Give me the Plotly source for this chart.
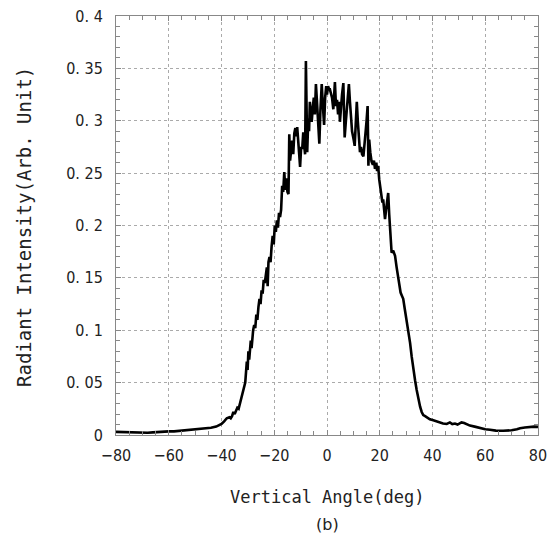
import plotly.graph_objects as go

# Rows are aligned: each angle row pairs with the intensity row of the same length
angle = [
    -80, -78, -76, -74, -72, -70, -68, -66, -64, -62,
    -60, -58, -56, -54, -52, -50, -48, -46, -44, -42,
    -41, -40, -39, -38, -37, -36.5, -36, -35.5, -35, -34.5,
    -34, -33.5, -33, -32.5, -32, -31.5, -31, -30.7, -30.4, -30.1,
    -29.8, -29.5, -29.2, -28.9, -28.6, -28.3, -28, -27.6, -27.2, -26.8,
    -26.4, -26, -25.6, -25.2, -24.8, -24.4, -24, -23.6, -23.2, -22.8,
    -22.5, -22.2, -21.8, -21.4, -21, -20.6, -20.2, -19.8, -19.4, -19,
    -18.6, -18.2, -17.8, -17.4, -17, -16.6, -16.2, -15.8, -15.4, -15,
    -14.6, -14.3, -14, -13.6, -13.2, -12.8, -12.4, -12, -11.7, -11.3,
    -11, -10.6, -10.2, -9.8, -9.4, -9, -8.6, -8.3, -8, -7.8,
    -7.5, -7.1, -6.8, -6.5, -6.1, -5.8, -5.4, -5, -4.6, -4.2,
    -3.8, -3.4, -2.9, -2.5, -2, -1.6, -1.1, -0.7, -0.3, 0,
    0.4, 0.8, 1.1, 1.5, 1.9, 2.4, 2.7, 3, 3.4, 3.8,
    4.2, 4.6, 4.9, 5.3, 5.7, 6.2, 6.5, 6.7, 7.1, 7.7,
    8, 8.3, 8.7, 9.1, 9.5, 10.1, 10.5, 10.8, 11.3, 11.7,
    12.1, 12.5, 12.9, 13.3, 13.8, 14.2, 14.7, 15, 15.4, 15.7,
    16, 16.4, 16.9, 17.4, 17.8, 18.2, 18.7, 19, 19.4, 19.8,
    20.2, 20.7, 21, 21.3, 21.6, 22, 22.4, 22.8, 23.2, 23.6,
    24.1, 24.5, 25.1, 25.8, 26.4, 27, 27.5, 27.9, 28.4, 28.9,
    29.5, 30.2, 30.8, 31.5, 32.1, 32.7, 33.4, 34, 34.6, 35.3,
    35.9, 36.5, 37.2, 37.8, 39, 40.3, 41.5, 42.8, 44, 45.4,
    46.6, 47.5, 48.5, 49.5, 51, 52, 53, 54.2, 56, 58,
    60, 61.8, 64, 66.8, 68, 70, 72, 73.2, 75, 77, 78.5, 80,
]

intensity = [
    0.003, 0.0028, 0.0025, 0.0022, 0.002, 0.002, 0.0022, 0.0025, 0.003, 0.003,
    0.0035, 0.0035, 0.004, 0.004, 0.0045, 0.005, 0.0055, 0.006, 0.007, 0.008,
    0.009, 0.0105, 0.013, 0.016, 0.017, 0.016, 0.018, 0.022, 0.02, 0.024,
    0.026, 0.025, 0.03, 0.036, 0.042, 0.047, 0.05, 0.06, 0.07, 0.062,
    0.08, 0.072, 0.085, 0.09, 0.083, 0.095, 0.1, 0.105, 0.102, 0.115,
    0.11, 0.122, 0.13, 0.125, 0.138, 0.135, 0.148, 0.145, 0.155, 0.16,
    0.142, 0.165, 0.17, 0.165, 0.18, 0.19, 0.182, 0.2, 0.194, 0.205,
    0.198, 0.212, 0.208, 0.215, 0.238, 0.232, 0.251, 0.234, 0.245, 0.232,
    0.23, 0.287, 0.262, 0.273, 0.281, 0.268, 0.288, 0.293, 0.285, 0.294,
    0.279, 0.27, 0.256, 0.275, 0.273, 0.289, 0.275, 0.268, 0.357, 0.3,
    0.27, 0.302, 0.29, 0.318, 0.305, 0.299, 0.312, 0.322, 0.306, 0.335,
    0.318, 0.3, 0.278, 0.31, 0.335, 0.316, 0.296, 0.322, 0.333, 0.325,
    0.333, 0.33, 0.33, 0.326, 0.322, 0.311, 0.325, 0.337, 0.314, 0.32,
    0.306, 0.318, 0.299, 0.318, 0.325, 0.336, 0.3, 0.284, 0.298, 0.314,
    0.322, 0.335, 0.318, 0.303, 0.29, 0.282, 0.276, 0.292, 0.318, 0.299,
    0.28, 0.27, 0.275, 0.268, 0.266, 0.275, 0.291, 0.3, 0.314, 0.257,
    0.282, 0.27, 0.261, 0.258, 0.262, 0.254, 0.26, 0.252, 0.257, 0.244,
    0.236, 0.228, 0.222, 0.225, 0.218, 0.206, 0.215, 0.222, 0.231, 0.21,
    0.187, 0.174, 0.176, 0.171, 0.16, 0.151, 0.145, 0.136, 0.133, 0.13,
    0.12, 0.11, 0.1, 0.088, 0.075, 0.062, 0.052, 0.043, 0.034, 0.027,
    0.022, 0.019, 0.018, 0.017, 0.015, 0.014, 0.013, 0.0115, 0.011, 0.0105,
    0.012, 0.0105, 0.011, 0.01, 0.012, 0.0115, 0.01, 0.009, 0.008, 0.0065,
    0.0055, 0.005, 0.0042, 0.004, 0.004, 0.0045, 0.0055, 0.0065, 0.0072, 0.0078, 0.008, 0.0078,
]

x_ticks = [-80, -60, -40, -20, 0, 20, 40, 60, 80]
x_ticktext = ["\u221280", "\u221260", "\u221240", "\u221220", "0", "20", "40", "60", "80"]
y_ticks = [0, 0.05, 0.1, 0.15, 0.2, 0.25, 0.3, 0.35, 0.4]
y_ticktext = ["0", "0. 05", "0. 1", "0. 15", "0. 2", "0. 25", "0. 3", "0. 35", "0. 4"]

tick_font = dict(family="Liberation Sans Narrow, DejaVu Sans Condensed, sans-serif",
                 size=16, color="#222")

fig = go.Figure()
fig.add_trace(go.Scatter(x=angle, y=intensity, mode="lines",
                         line=dict(color="#000", width=2.6), showlegend=False,
                         hoverinfo="skip"))

axis_common = dict(
    showline=True, linecolor="#888", linewidth=1, mirror="ticks",
    ticks="inside", ticklen=5, tickcolor="#888", tickwidth=1,
    showgrid=True, gridcolor="#aaa", griddash="dot", gridwidth=1,
    zeroline=False, tickfont=tick_font, ticklabeloverflow="allow",
    automargin=False,
)

fig.update_xaxes(range=[-80, 80], tickvals=x_ticks, ticktext=x_ticktext,
                 minor=dict(ticks="inside", dtick=5, ticklen=4, tickcolor="#888", showgrid=False),
                 ticklabelstandoff=6, **axis_common)
fig.update_yaxes(range=[0, 0.4], tickvals=y_ticks, ticktext=y_ticktext,
                 minor=dict(ticks="inside", dtick=0.01, ticklen=4, tickcolor="#888", showgrid=False),
                 ticklabelstandoff=9, **axis_common)

W, H = 554, 545
L, T, R, B = 116, 16, 16, 110
pw, ph = W - L - R, H - T - B

def px(xp):
    return (xp - L) / pw

def py(yp):
    return (H - B - yp) / ph

fig.add_annotation(text="Vertical Angle(deg)", xref="paper", yref="paper",
                   x=px(327), y=py(497), xanchor="center", yanchor="middle", showarrow=False,
                   font=dict(family="DejaVu Sans Mono, monospace", size=17, color="#222"))
fig.add_annotation(text="(b)", xref="paper", yref="paper",
                   x=px(327), y=py(524), xanchor="center", yanchor="middle", showarrow=False,
                   font=dict(family="DejaVu Sans, sans-serif", size=16, color="#222"))
fig.add_annotation(text="Radiant Intensity(Arb. Unit)", xref="paper", yref="paper",
                   x=px(24), y=py(227), xanchor="center", yanchor="middle",
                   showarrow=False, textangle=-90,
                   font=dict(family="DejaVu Sans Mono, monospace", size=19, color="#222"))

fig.update_layout(width=W, height=H, margin=dict(l=L, r=R, t=T, b=B),
                  paper_bgcolor="white", plot_bgcolor="white", hovermode=False)

fig.write_html(
    "out.html",
    config={"displayModeBar": False},
    post_script=("document.documentElement.style.overflow='hidden';"
                 "document.body.style.margin='0';document.body.style.overflow='hidden';"),
)
